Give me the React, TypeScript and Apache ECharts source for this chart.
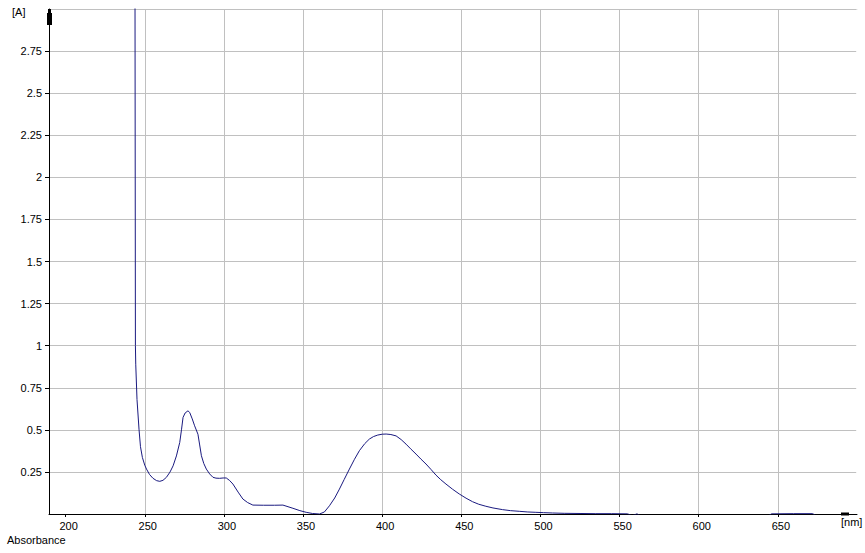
import React, { useEffect, useRef } from "react";
import * as echarts from "echarts";

const wavelengths = [
  243.8, 244.1, 244.3, 245.1, 246.4, 247.3, 248.5, 250.0, 251.1, 253.0, 255.2, 257.5, 259.5,
  261.5, 263.7, 266.0, 267.9, 270.0, 272.1, 273.2, 274.2, 275.5, 277.3, 278.4, 280.0, 281.5,
  283.6, 284.7, 285.8, 287.3, 288.9, 291.0, 293.1, 295.0, 297.3, 299.5, 301.5, 303.5, 305.7,
  309.0, 312.0, 315.0, 318.3, 325.0, 332.0, 337.3, 343.6, 348.0, 352.0, 356.0, 360.4, 363.5,
  366.7, 370.0, 373.0, 376.0, 379.3, 382.5, 385.6, 389.0, 391.9, 394.5, 397.2, 400.0, 402.5,
  405.5, 408.8, 412.0, 415.1, 418.0, 421.4, 424.5, 427.7, 431.0, 434.0, 437.0, 440.3, 444.5,
  448.7, 453.0, 457.1, 461.0, 465.5, 470.0, 476.0, 481.0, 486.6, 492.0, 497.1, 502.0, 507.6,
  515.0, 525.0, 535.0, 545.0, 555.0, 558.0, 561.0, 563.0, 600.0, 644.0, 646.0, 660.0, 672.0,
  674.0, 700.0,
];

const absorbance = [
  3.4, 1.0, 0.89, 0.68, 0.5, 0.4, 0.336, 0.29, 0.267, 0.235, 0.212, 0.198, 0.194,
  0.2, 0.218, 0.25, 0.286, 0.345, 0.425, 0.5, 0.574, 0.6, 0.613, 0.603, 0.565, 0.524,
  0.474, 0.41, 0.346, 0.3, 0.267, 0.238, 0.218, 0.213, 0.212, 0.214, 0.214, 0.2, 0.178,
  0.13, 0.089, 0.068, 0.053, 0.052, 0.052, 0.053, 0.034, 0.02, 0.01, 0.003, 0.0, 0.012,
  0.049, 0.095, 0.148, 0.205, 0.267, 0.325, 0.376, 0.418, 0.445, 0.46, 0.469, 0.474, 0.475,
  0.472, 0.464, 0.442, 0.415, 0.387, 0.356, 0.326, 0.297, 0.263, 0.231, 0.204, 0.178, 0.147,
  0.119, 0.094, 0.073, 0.058, 0.046, 0.036, 0.026, 0.02, 0.016, 0.012, 0.01, 0.008, 0.006,
  0.004, 0.003, 0.002, 0.002, 0.001, -0.01, 0.001, -0.01, -0.01, -0.01, 0.001, 0.002, 0.002,
  -0.01, -0.01,
];

const xTickLabels = [200, 250, 300, 350, 400, 450, 500, 550, 600, 650];
const xGridValues = [250, 300, 350, 400, 450, 500, 550, 600, 650];
const yTickLabels = [0.25, 0.5, 0.75, 1, 1.25, 1.5, 1.75, 2, 2.25, 2.5, 2.75];

const X_MIN = 189.5;
const X_MAX = 700;
const Y_MIN = 0;
const Y_MAX = 3;

const FONT = "'Liberation Sans', Arial, sans-serif";

export default function App() {
  const ref = useRef<HTMLDivElement>(null);

  useEffect(() => {
    if (!ref.current) return;
    const chart = echarts.init(ref.current, null, { renderer: "svg" });
    const data = wavelengths.map((w, i) => [w, absorbance[i]]);
    chart.setOption({
      animation: false,
      backgroundColor: "#ffffff",
      textStyle: { fontFamily: FONT },
      grid: { left: 49, right: 8, top: 9, bottom: 39, containLabel: false },
      xAxis: [
        {
          type: "value",
          min: X_MIN,
          max: X_MAX,
          position: "bottom",
          axisLine: { show: true, lineStyle: { color: "#000000", width: 1 } },
          axisTick: {
            show: true,
            customValues: xTickLabels,
            length: 3,
            lineStyle: { color: "#000000" },
          },
          axisLabel: {
            customValues: xTickLabels,
            color: "#000000",
            fontSize: 11,
            fontFamily: FONT,
            margin: 6,
            padding: [0, 0, 0, 6],
          },
          splitLine: { show: false },
        },
        {
          type: "value",
          min: X_MIN,
          max: X_MAX,
          position: "top",
          axisLine: { show: true, lineStyle: { color: "#c0c0c0", width: 1 } },
          axisTick: { show: false, customValues: xGridValues },
          axisLabel: { show: false },
          splitLine: { show: true, lineStyle: { color: "#c0c0c0", width: 1 } },
        },
      ],
      yAxis: {
        type: "value",
        min: Y_MIN,
        max: Y_MAX,
        axisLine: { show: true, lineStyle: { color: "#000000", width: 1 } },
        axisTick: {
          show: true,
          customValues: yTickLabels,
          length: 4,
          lineStyle: { color: "#000000" },
        },
        axisLabel: {
          customValues: yTickLabels,
          color: "#000000",
          fontSize: 11,
          fontFamily: FONT,
          margin: 7,
        },
        splitLine: { show: true, lineStyle: { color: "#c0c0c0", width: 1 } },
      },
      graphic: [
        {
          type: "rect",
          shape: { x: 856.2, y: 9.6, width: 4, height: 503.4 },
          style: { fill: "#ffffff" },
          z: 50,
        },
        { type: "text", left: 12, top: 6, style: { text: "[A]", fill: "#000", font: `11px ${FONT}` } },
        { type: "text", left: 7, top: 534, style: { text: "Absorbance", fill: "#000", font: `11px ${FONT}` } },
        { type: "text", left: 841, top: 516, style: { text: "[nm]", fill: "#000", font: `11px ${FONT}` } },
        { type: "rect", shape: { x: 47, y: 13, width: 5, height: 12 }, style: { fill: "#000" }, z: 60 },
        { type: "rect", shape: { x: 48, y: 9, width: 3, height: 4 }, style: { fill: "#000" }, z: 60 },
        { type: "rect", shape: { x: 841, y: 512.5, width: 8, height: 3 }, style: { fill: "#000" }, z: 60 },
      ],
      series: [
        {
          type: "line",
          xAxisIndex: 0,
          data,
          showSymbol: false,
          symbol: "none",
          clip: true,
          lineStyle: { color: "#1a1a80", width: 1 },
          z: 5,
        },
      ],
    });
    return () => chart.dispose();
  }, []);

  return (
    <div
      ref={ref}
      style={{ position: "fixed", left: 0, top: 0, width: 865, height: 553, background: "#fff" }}
    />
  );
}
